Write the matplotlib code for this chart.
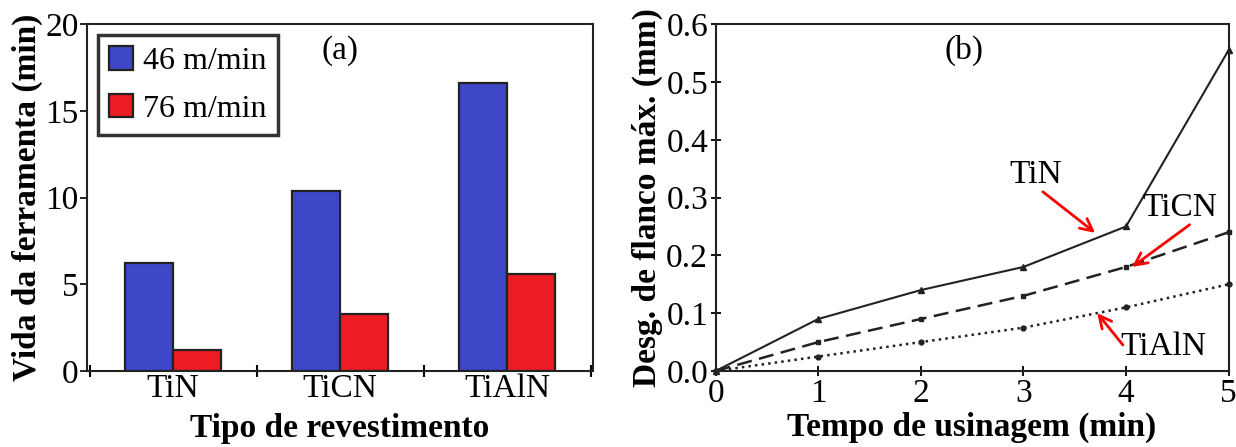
import numpy as np
import matplotlib
matplotlib.use("Agg")
import matplotlib.pyplot as plt
from matplotlib.ticker import FormatStrFormatter

plt.rcParams["font.family"] = ["Liberation Serif", "DejaVu Serif"]

# (a) tool life per coating
coatings = ["TiN", "TiCN", "TiAlN"]
life_46 = [6.2, 10.4, 16.6]
life_76 = [1.2, 3.3, 5.6]
speed_labels = ["46 m/min", "76 m/min"]

# (b) max flank wear vs machining time
t_min = [0, 1, 2, 3, 4, 5]
wear_tin = [0.0, 0.09, 0.14, 0.18, 0.25, 0.555]
wear_ticn = [0.0, 0.05, 0.09, 0.13, 0.18, 0.24]
wear_tialn = [0.0, 0.025, 0.05, 0.075, 0.11, 0.15]

BLUE, RED, LINE = "#3f47c9", "#ec1c24", "#222222"
FS = 24

fig = plt.figure(figsize=(12.36, 4.47), dpi=100)
ax1 = fig.add_axes([0.0704, 0.170, 0.4094, 0.776])
ax2 = fig.add_axes([0.579, 0.170, 0.415, 0.776])

# ---- (a) bars
x = np.arange(len(coatings))
w = 0.29
ax1.bar(x - w/2, life_46, w, color=BLUE, edgecolor="#222222", linewidth=1.6, label=speed_labels[0])
ax1.bar(x + w/2, life_76, w, color=RED, edgecolor="#222222", linewidth=1.6, label=speed_labels[1])
ax1.set_xlim(-0.515, 2.515)
ax1.set_ylim(0, 20)
ax1.set_yticks([0, 5, 10, 15, 20])
ax1.set_xticks([-0.5, 0.5, 1.5, 2.5])
ax1.set_xticklabels([])
ax1.set_xticks(x, minor=True)
ax1.set_xticklabels(coatings, minor=True)
ax1.tick_params(axis="x", which="minor", length=0, labelsize=FS, pad=2)
ax1.tick_params(axis="x", which="major", direction="inout", length=8, width=1.5)
ax1.tick_params(axis="y", direction="out", length=5, width=1.2, labelsize=FS, pad=1)
ax1.set_xlabel("Tipo de revestimento", fontsize=FS, fontweight="bold", labelpad=6)
ax1.set_ylabel("Vida da ferramenta (min)", fontsize=FS, fontweight="bold", labelpad=2)
leg = ax1.legend(loc="upper left", fontsize=FS - 1, frameon=True, fancybox=False,
                 handlelength=0.75, handleheight=0.75, handletextpad=0.3,
                 borderpad=0.35, labelspacing=0.55, borderaxespad=0.35)
leg.get_frame().set_edgecolor("black")
leg.get_frame().set_linewidth(2.5)
ax1.text(0.5, 0.925, "(a)", transform=ax1.transAxes, ha="center", va="center", fontsize=FS)

# ---- (b) wear curves
ax2.plot(t_min, wear_tin, "-", color=LINE, lw=1.5, marker="^", ms=4, clip_on=False)
ax2.plot(t_min, wear_ticn, "--", color=LINE, lw=1.8, dashes=(6, 3), marker="s", ms=3.5, clip_on=False)
ax2.plot(t_min, wear_tialn, ":", color=LINE, lw=1.8, marker="o", ms=3.5, clip_on=False)
ax2.set_xlim(0, 5)
ax2.set_ylim(0, 0.6)
ax2.set_yticks(np.arange(0, 0.61, 0.1))
ax2.yaxis.set_major_formatter(FormatStrFormatter("%.1f"))
ax2.tick_params(axis="both", direction="inout", length=7, width=1.3, labelsize=FS, pad=2)
ax2.set_xlabel("Tempo de usinagem (min)", fontsize=FS, fontweight="bold", labelpad=2)
ax2.set_ylabel("Desg. de flanco máx. (mm)", fontsize=FS, fontweight="bold", labelpad=2)
ax2.text(0.485, 0.925, "(b)", transform=ax2.transAxes, ha="center", va="center", fontsize=FS)

arrow = dict(arrowstyle="->", color="red", lw=2, mutation_scale=22, shrinkA=0, shrinkB=0)
ax2.text(3.12, 0.34, "TiN", fontsize=FS, ha="center", va="center")
ax2.annotate("", xy=(3.70, 0.239), xytext=(3.19, 0.31), arrowprops=arrow)
ax2.text(4.52, 0.283, "TiCN", fontsize=FS, ha="center", va="center")
ax2.annotate("", xy=(4.06, 0.18), xytext=(4.62, 0.253), arrowprops=arrow)
ax2.text(4.36, 0.042, "TiAlN", fontsize=FS, ha="center", va="center")
ax2.annotate("", xy=(3.72, 0.10), xytext=(3.97, 0.045), arrowprops=arrow)

for ax in (ax1, ax2):
    for s in ax.spines.values():
        s.set_linewidth(1.5)
        s.set_color("#222222")

fig.savefig("out.png", dpi=100)
